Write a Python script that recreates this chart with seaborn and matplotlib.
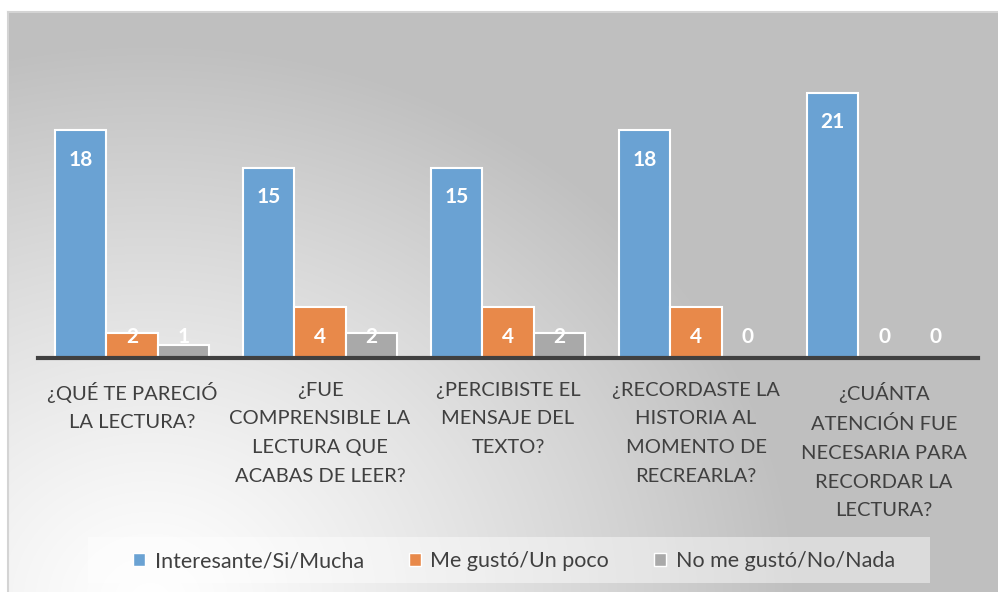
import numpy as np
import pandas as pd
import seaborn as sns
import matplotlib.pyplot as plt
from matplotlib.patches import Rectangle

# datos
preguntas = [
    "¿QUÉ TE PARECIÓ\nLA LECTURA?",
    "¿FUE\nCOMPRENSIBLE LA\nLECTURA QUE\nACABAS DE LEER?",
    "¿PERCIBISTE EL\nMENSAJE DEL\nTEXTO?",
    "¿RECORDASTE LA\nHISTORIA AL\nMOMENTO DE\nRECREARLA?",
    "¿CUÁNTA\nATENCIÓN FUE\nNECESARIA PARA\nRECORDAR LA\nLECTURA?",
]
series = ["Interesante/Si/Mucha", "Me gustó/Un poco", "No me gustó/No/Nada"]
interesante = [18, 15, 15, 18, 21]
un_poco = [2, 4, 4, 4, 0]
nada = [1, 2, 2, 0, 0]

colores = ["#6aa2d3", "#e8894a", "#a9a9a9"]

df = pd.DataFrame({
    "pregunta": preguntas * 3,
    "serie": sum([[s] * len(preguntas) for s in series], []),
    "valor": interesante + un_poco + nada,
})

sns.set_style("white")
plt.rcParams["font.family"] = ["Lato", "DejaVu Sans"]

W, H = 998, 592
fig = plt.figure(figsize=(W / 100, H / 100), dpi=100)

# fondo con degradado radial (claro abajo a la izquierda, gris arriba/derecha)
bg = fig.add_axes([8 / W, 0, (W - 8) / W, (H - 12) / H])
xx, yy = np.meshgrid(np.arange(8, W), np.arange(12, H))
d = np.sqrt(((xx - 150) / 650.0) ** 2 + ((yy - 600) / 560.0) ** 2)
t = np.clip(d, 0, 1) ** 1.2
img = (255 - 64 * t) / 255.0
bg.imshow(np.dstack([img, img, img]), aspect="auto", interpolation="bilinear")
bg.set_xticks([])
bg.set_yticks([])
for s in ["right", "bottom"]:
    bg.spines[s].set_visible(False)
for s in ["left", "top"]:
    bg.spines[s].set_color("#d4d4d4")
    bg.spines[s].set_linewidth(1.5)

ax = fig.add_axes([38 / W, 1 - 358 / H, 940 / W, 316 / H])
ax.patch.set_alpha(0)
sns.barplot(data=df, x="pregunta", y="valor", hue="serie", hue_order=series,
            palette=colores, saturation=1, width=0.82, edgecolor="white",
            linewidth=1.5, legend=False, ax=ax)
ax.set_ylim(0, 25)
ax.set_xlim(-0.5, 4.5)

# etiquetas de datos
for cont in ax.containers:
    for bar in cont:
        h = bar.get_height()
        xc = bar.get_x() + bar.get_width() / 2
        ax.text(xc, max(h - 2.3, 1.66), f"{h:.0f}", ha="center", va="center",
                color="white", fontsize=15, fontweight="bold")

for s in ["left", "right", "top"]:
    ax.spines[s].set_visible(False)
ax.spines["bottom"].set_color("#404040")
ax.spines["bottom"].set_linewidth(3)
ax.set_yticks([])
ax.set_xlabel("")
ax.set_ylabel("")
ax.tick_params(axis="x", length=0, pad=17)
for lbl in ax.get_xticklabels():
    lbl.set_fontsize(14.5)
    lbl.set_color("#404040")
    lbl.set_linespacing(1.84)
    lbl.set_verticalalignment("top")
    lbl.set_multialignment("center")

# leyenda
fig.patches.append(Rectangle((88 / W, 1 - 583 / H), 842 / W, 46 / H,
                             transform=fig.transFigure, facecolor="white",
                             alpha=0.45, edgecolor="none", zorder=1))
handles = [Rectangle((0, 0), 1, 1, facecolor=c, edgecolor="white", linewidth=1)
           for c in colores]
fig.legend(handles, series, loc="center", bbox_to_anchor=(514 / W, 1 - 561 / H),
           ncol=3, frameon=False, fontsize=15.5, handlelength=0.55,
           handleheight=0.55, handletextpad=0.45, columnspacing=2.1,
           labelcolor="#404040")

fig.savefig("out.png", dpi=100)
